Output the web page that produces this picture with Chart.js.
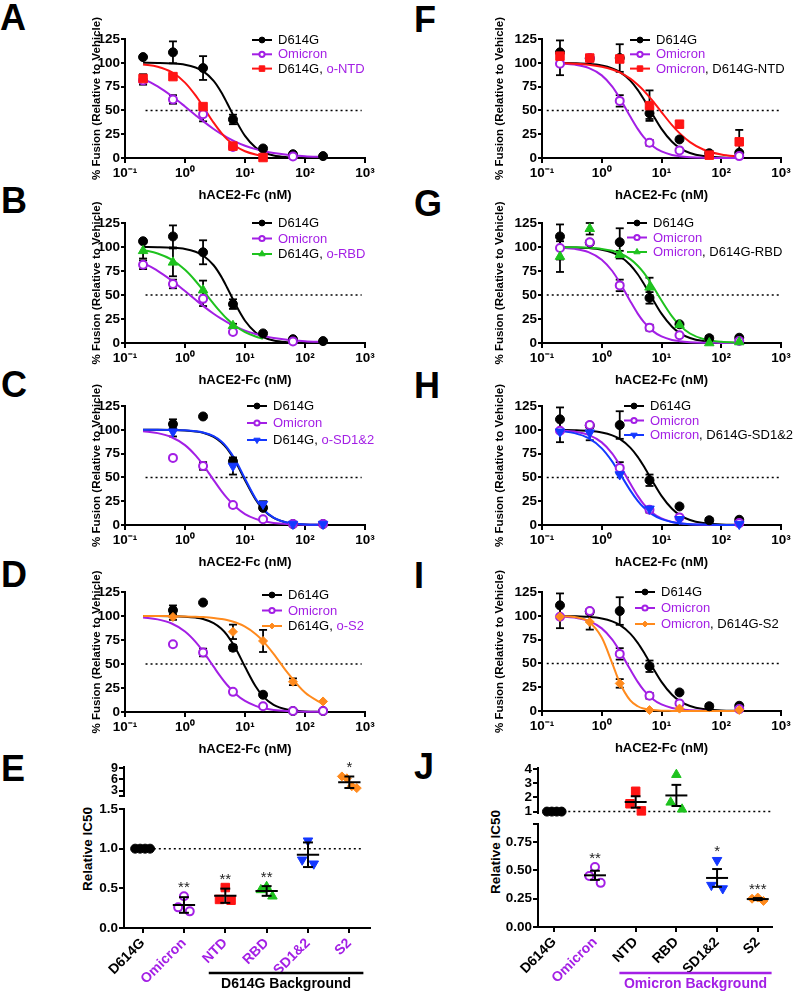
<!DOCTYPE html>
<html lang="en">
<head>
<meta charset="UTF-8">
<title>hACE2-Fc inhibition of spike-mediated fusion</title>
<style>
  body { margin: 0; background: #fff; }
  #fig { position: relative; width: 797px; height: 995px; overflow: hidden; font-family: "Liberation Sans", Arial, sans-serif; }
  #fig canvas { position: absolute; }
  .letter { position: absolute; font-weight: bold; font-size: 36px; line-height: 1; }
  .ytitle { position: absolute; font-weight: bold; font-size: 13.5px; white-space: nowrap; transform: translate(-50%, -50%) rotate(-90deg); }
</style>
</head>
<body>
<div id="fig">
  <div class="letter" style="left:0px;top:0px">A</div>
  <div class="letter" style="left:1px;top:183px">B</div>
  <div class="letter" style="left:1px;top:367px">C</div>
  <div class="letter" style="left:1px;top:557px">D</div>
  <div class="letter" style="left:1px;top:751px">E</div>
  <div class="letter" style="left:414px;top:2px">F</div>
  <div class="letter" style="left:414px;top:186px">G</div>
  <div class="letter" style="left:414px;top:368px">H</div>
  <div class="letter" style="left:414px;top:558px">I</div>
  <div class="letter" style="left:414px;top:749px">J</div>
  <div class="ytitle" style="left:87px;top:849px">Relative IC50</div>
  <div class="ytitle" style="left:495px;top:852px">Relative IC50</div>
</div>
<script src="https://cdn.jsdelivr.net/npm/chart.js@4.4.1/dist/chart.umd.min.js"></script>
<script>
var BLACK = '#000000', PURPLE = '#a31fe5', RED = '#ff1414', GREEN = '#1ec21e', BLUE = '#1438ff', ORANGE = '#ff8a1d';

var conc = [0.2, 0.63, 2, 6.3, 20, 63, 200];
var fitConc = [0.2, 0.35, 0.6, 1, 1.5, 2, 3, 4, 5, 7, 10, 15, 20, 30, 50, 100, 200];
var xTicks = [0.1, 1, 10, 100, 1000];
var xTickLabels = ['10⁻¹', '10⁰', '10¹', '10²', '10³'];
var yTicks = [0, 25, 50, 75, 100, 125];
var refLeft = [0.22, 880];
var refRight = [0.12, 950];

// A, B
var wtAB = [106, 111, 94.5, 40.5, 10, 4, 2];
var wtABErr = [0, 11.5, 12.5, 5, 0, 0, 0];
var wtABFit = [100, 99.8, 99.3, 98.0, 95.1, 91.2, 81.0, 69.4, 58.1, 39.8, 23.2, 11.0, 6.2, 2.6, 0.9, 0.2, 0];
var omiAB = [81.5, 61.5, 46, 11.5, null, 1.5, null];
var omiABErr = [4.5, 4.5, 7.5, 2, 0, 0, 0];
var omiABFit = [83.4, 75.2, 65.1, 54.1, 45.0, 38.7, 30.5, 25.3, 21.7, 17.0, 12.9, 9.3, 7.4, 5.2, 3.4, 1.8, 1.0];
var ntdA = [83.5, 85.5, 54, 12.5, 0.5, null, null];
var ntdAErr = [4.5, 0, 0, 2.5, 0, 0, 0];
var ntdAFit = [98.3, 95.8, 90.1, 79.2, 65.7, 54.1, 37.1, 26.6, 19.8, 12.3, 7.1, 3.7, 2.3];
var rbdB = [96, 84, 55, 18, null, null, null];
var rbdBErr = [8, 14.5, 10, 2, 0, 0, 0];
var rbdBFit = [96.8, 93.3, 86.8, 76.2, 64.6, 54.9, 40.8, 31.6, 25.2, 17.4, 11.3, 6.8, 4.6];

// C, D
var wtCD = [null, 106, 114, 67, 18, 1, 1];
var wtCDErr = [0, 5, 0, 3, 2, 0, 0];
var wtCDFit = [100, 100, 99.8, 99.3, 98.3, 96.9, 92.7, 87.0, 80.4, 66.2, 47.1, 26.8, 16.3, 7.4, 2.5, 0.6, 0.1];
var omiCD = [null, 70.5, 62, 21, 6, 1, 1];
var omiCDErr = [0, 0, 4, 0, 0, 0, 0];
var omiCDFit = [98.5, 96.5, 92.2, 83.9, 73.1, 63.2, 47.2, 36.1, 28.4, 18.8, 11.5, 6.4, 4.1, 2.2, 1.0, 0.3, 0.1];
var sd12C = [null, 98, null, 62, 22, 1, 1];
var sd12CErr = [0, 5, 0, 9, 3, 0, 0];
var sd12CFit = [100, 100, 99.8, 99.4, 98.5, 97.2, 93.3, 87.9, 81.6, 67.8, 48.6, 27.9, 17.0, 7.7, 2.6, 0.6, 0.1];
var s2D = [null, 99, null, 83.5, 74, 31.5, 11];
var s2DErr = [0, 3, 0, 7.5, 11.5, 3.5, 0];
var s2DFit = [100, 100, 99.8, 99.6, 99.3, 98.9, 98.0, 96.9, 95.8, 93.2, 88.9, 81.3, 73.9, 60.6, 41.7, 20.2, 8.2];

// F - I
var wtFI = [111, 104.5, 105, 47, 19.5, 5, 5.5];
var wtFIErr = [12.5, 2.5, 14.5, 6, 0, 2.5, 0];
var wtFIFit = [99.9, 99.6, 98.9, 97.2, 94.2, 90.4, 81.3, 71.6, 62.2, 46.5, 30.6, 17.0, 10.6, 5.2, 2.0, 0.6, 0.1];
var omiFI = [99, 105, 60, 16, 8, null, 2];
var omiFIErr = [12, 0, 6, 3, 0, 0, 0];
var omiFIFit = [99.3, 98.1, 94.7, 86.8, 75.0, 63.0, 43.6, 30.6, 22.2, 12.9, 6.9, 3.2, 1.9, 0.9, 0.3, 0.1, 0];
var ntdF = [107, 105, 104, 55, 35.5, 3, 17];
var ntdFErr = [0, 0, 0, 16, 3, 0, 12.5];
var ntdFFit = [99.6, 99.0, 98.0, 95.9, 93.0, 89.9, 83.4, 77.0, 71.1, 60.5, 48.2, 34.5, 26.1, 16.7, 8.9, 3.6, 1.4];
var rbdG = [90, 119, 92, 58, 19, 0, 1];
var rbdGErr = [16, 6, 4, 10, 0, 0, 0];
var rbdGFit = [99.9, 99.7, 99.2, 98.0, 96.0, 93.5, 87.4, 80.5, 73.5, 60.2, 44.3, 27.7, 18.6, 9.9, 4.2, 1.2, 0.4];
var sd12H = [98, 97, 53, 17, 6, null, 1];
var sd12HErr = [0, 8, 0, 2, 0, 0, 0];
var sd12HFit = [98.7, 96.5, 91.2, 80.5, 66.6, 54.3, 36.4, 25.4, 18.6, 11.1, 6.1, 3.1, 1.8, 0.9, 0.4, 0.1, 0];
var s2I = [99, 93.5, 29, 1, 2.5, null, 1];
var s2IErr = [0, 8, 4.5, 0, 0, 0, 0];
var s2IFit = [99.8, 98.7, 94.0, 77.1, 50.0, 29.7, 11.1, 5.0, 2.6, 1.0, 0.3, 0.1, 0, 0, 0, 0, 0];

// E, J relative IC50
var icCats = ['D614G', 'Omicron', 'NTD', 'RBD', 'SD1&2', 'S2'];
var icE = [[1, 1, 1, 1], [0.40, 0.26, 0.21], [0.51, 0.36, 0.35], [0.52, 0.48, 0.40], [1.10, 0.86, 0.81], [6.8, 6.3, 4.2, 3.7]];
var starsE = ['', '**', '**', '**', '', '*'];
var icJ = [[1, 1, 1, 1], [0.53, 0.45, 0.39], [2.43, 1.55, 1.05], [3.6, 1.65, 1.16], [0.59, 0.37, 0.34], [0.26, 0.25, 0.23]];
var starsJ = ['', '**', '', '', '*', '***'];
var refE = [0.15, 5.3];
var refJ = [-0.27, 5.35];
var eUpperTicks = [1.6, 3, 6, 9], eUpperLabels = ['', '3', '6', '9'];
var eLowerTicks = [0, 0.5, 1, 1.5], eLowerLabels = ['0.0', '0.5', '1.0', '1.5'];
var jUpperTicks = [1, 2, 3, 4], jUpperLabels = ['1', '2', '3', '4'];
var jLowerTicks = [0, 0.25, 0.5, 0.75, 0.91], jLowerLabels = ['0.00', '0.25', '0.50', '0.75', ''];

Chart.defaults.font.family = '"Liberation Sans", Arial, sans-serif';
Chart.defaults.color = '#000';

var fig = document.getElementById('fig');
function addCanvas(left, top, w, h) {
  var c = document.createElement('canvas');
  c.width = w; c.height = h;
  c.style.left = left + 'px'; c.style.top = top + 'px';
  c.style.width = w + 'px'; c.style.height = h + 'px';
  fig.appendChild(c);
  return c;
}

function pointOpts(color, shape) {
  var o = { pointBackgroundColor: color, pointBorderColor: color, pointBorderWidth: 1, pointStyle: 'circle', pointRadius: 4.5, pointRotation: 0 };
  if (shape === 'open') { o.pointBackgroundColor = '#fff'; o.pointBorderWidth = 2; o.pointRadius = 4; }
  if (shape === 'square') { o.pointStyle = 'rect'; o.pointRadius = 6; }
  if (shape === 'up') { o.pointStyle = 'triangle'; o.pointRadius = 5.5; }
  if (shape === 'down') { o.pointStyle = 'triangle'; o.pointRadius = 5.5; o.pointRotation = 180; }
  if (shape === 'diamond') { o.pointStyle = 'rectRot'; o.pointRadius = 4.5; }
  return o;
}

function drawMarker(ctx, shape, x, y, r) {
  ctx.beginPath();
  if (shape === 'square') ctx.rect(x - r * 0.71, y - r * 0.71, r * 1.42, r * 1.42);
  else if (shape === 'up' || shape === 'down') {
    var s = shape === 'up' ? 1 : -1;
    ctx.moveTo(x, y - s * r); ctx.lineTo(x + r * 0.87, y + s * r * 0.5); ctx.lineTo(x - r * 0.87, y + s * r * 0.5); ctx.closePath();
  } else if (shape === 'diamond') {
    ctx.moveTo(x, y - r); ctx.lineTo(x + r, y); ctx.lineTo(x, y + r); ctx.lineTo(x - r, y); ctx.closePath();
  } else ctx.arc(x, y, r, 0, Math.PI * 2);
  ctx.fill(); ctx.stroke();
}

function seg(ctx, x1, y1, x2, y2) { ctx.beginPath(); ctx.moveTo(x1, y1); ctx.lineTo(x2, y2); ctx.stroke(); }

// legend in the top right of each dose panel, labels in two colours
function legendPlugin(series, pos) {
  return {
    id: 'seriesLegend',
    afterDatasetsDraw: function (chart) {
      var ctx = chart.ctx, a = chart.chartArea;
      var x0 = a.left + pos[0], y = a.top + pos[1];
      ctx.save();
      ctx.font = '13px "Liberation Sans", Arial, sans-serif';
      ctx.textBaseline = 'middle'; ctx.textAlign = 'left';
      series.forEach(function (s) {
        ctx.strokeStyle = s.color; ctx.lineWidth = 2;
        seg(ctx, x0, y, x0 + 20, y);
        var po = pointOpts(s.color, s.shape);
        ctx.fillStyle = po.pointBackgroundColor; ctx.strokeStyle = po.pointBorderColor; ctx.lineWidth = po.pointBorderWidth;
        drawMarker(ctx, s.shape, x0 + 10, y, po.pointRadius * 0.65);
        var tx = x0 + 26;
        s.parts.forEach(function (p) { ctx.fillStyle = p[1]; ctx.fillText(p[0], tx, y + 0.5); tx += ctx.measureText(p[0]).width; });
        y += pos[2];
      });
      ctx.restore();
    }
  };
}

// error bars behind the markers (values carry their own +/- in field e)
var errorBars = {
  id: 'errorBars',
  beforeDatasetsDraw: function (chart) {
    var ctx = chart.ctx, ys = chart.scales.y;
    ctx.save();
    ctx.strokeStyle = '#000'; ctx.lineWidth = 1.8;
    chart.data.datasets.forEach(function (ds, i) {
      if (!ds.hasErr) return;
      var meta = chart.getDatasetMeta(i);
      meta.data.forEach(function (pt, j) {
        var raw = ds.data[j];
        if (!raw.e) return;
        var yt = ys.getPixelForValue(raw.y + raw.e), yb = ys.getPixelForValue(raw.y - raw.e);
        seg(ctx, pt.x, yt, pt.x, yb);
        seg(ctx, pt.x - 4, yt, pt.x + 4, yt);
        seg(ctx, pt.x - 4, yb, pt.x + 4, yb);
      });
    });
    ctx.restore();
  }
};

function S(parts, color, shape, vals, errs, fit) {
  return { parts: parts, color: color, shape: shape, vals: vals, errs: errs, fit: fit };
}
var lblWT = [['D614G', BLACK]];
var lblOmi = [['Omicron', PURPLE]];

var dosePanels = [
  { left: 80, width: 320, yw: 45, right: 365, top: 39, bottom: 158, legend: [127, 1, 14.3], ref: refLeft, series: [
    S(lblWT, BLACK, 'filled', wtAB, wtABErr, wtABFit), S(lblOmi, PURPLE, 'open', omiAB, omiABErr, omiABFit),
    S([['D614G, ', BLACK], ['o-NTD', PURPLE]], RED, 'square', ntdA, ntdAErr, ntdAFit)] },
  { left: 80, width: 320, yw: 45, right: 365, top: 223, bottom: 343, legend: [127, 0, 15.5], ref: refLeft, series: [
    S(lblWT, BLACK, 'filled', wtAB, wtABErr, wtABFit), S(lblOmi, PURPLE, 'open', omiAB, omiABErr, omiABFit),
    S([['D614G, ', BLACK], ['o-RBD', PURPLE]], GREEN, 'up', rbdB, rbdBErr, rbdBFit)] },
  { left: 80, width: 320, yw: 45, right: 365, top: 406, bottom: 525, legend: [122, 0, 17], ref: refLeft, series: [
    S(lblWT, BLACK, 'filled', wtCD, wtCDErr, wtCDFit), S(lblOmi, PURPLE, 'open', omiCD, omiCDErr, omiCDFit),
    S([['D614G, ', BLACK], ['o-SD1&2', PURPLE]], BLUE, 'down', sd12C, sd12CErr, sd12CFit)] },
  { left: 80, width: 320, yw: 45, right: 365, top: 592, bottom: 712, legend: [137, 3, 15.5], ref: refLeft, series: [
    S(lblWT, BLACK, 'filled', wtCD, wtCDErr, wtCDFit), S(lblOmi, PURPLE, 'open', omiCD, omiCDErr, omiCDFit),
    S([['D614G, ', BLACK], ['o-S2', PURPLE]], ORANGE, 'diamond', s2D, s2DErr, s2DFit)] },
  { left: 483, width: 314, yw: 59, right: 781, top: 39, bottom: 158, legend: [88, 1, 14.3], ref: refRight, series: [
    S(lblWT, BLACK, 'filled', wtFI, wtFIErr, wtFIFit), S(lblOmi, PURPLE, 'open', omiFI, omiFIErr, omiFIFit),
    S([['Omicron', PURPLE], [', D614G-NTD', BLACK]], RED, 'square', ntdF, ntdFErr, ntdFFit)] },
  { left: 483, width: 314, yw: 59, right: 781, top: 223, bottom: 343, legend: [85, 0, 14.5], ref: refRight, series: [
    S(lblWT, BLACK, 'filled', wtFI, wtFIErr, wtFIFit), S(lblOmi, PURPLE, 'open', omiFI, omiFIErr, omiFIFit),
    S([['Omicron', PURPLE], [', D614G-RBD', BLACK]], GREEN, 'up', rbdG, rbdGErr, rbdGFit)] },
  { left: 483, width: 314, yw: 59, right: 781, top: 406, bottom: 525, legend: [82, 0, 14.5], ref: refRight, series: [
    S(lblWT, BLACK, 'filled', wtFI, wtFIErr, wtFIFit), S(lblOmi, PURPLE, 'open', omiFI, omiFIErr, omiFIFit),
    S([['Omicron', PURPLE], [', D614G-SD1&2', BLACK]], BLUE, 'down', sd12H, sd12HErr, sd12HFit)] },
  { left: 483, width: 314, yw: 59, right: 781, top: 592, bottom: 711, legend: [93, 0, 16], ref: refRight, series: [
    S(lblWT, BLACK, 'filled', wtFI, wtFIErr, wtFIFit), S(lblOmi, PURPLE, 'open', omiFI, omiFIErr, omiFIFit),
    S([['Omicron', PURPLE], [', D614G-S2', BLACK]], ORANGE, 'diamond', s2I, s2IErr, s2IFit)] }
];

var axisGrid = { drawOnChartArea: false, color: '#000', lineWidth: 2 };

function doseChart(p) {
  var padTop = 28, xH = 48;
  var canvas = addCanvas(p.left, p.top - padTop, p.width, padTop + (p.bottom - p.top) + xH);
  var datasets = [];
  p.series.forEach(function (s, k) {
    var pts = [];
    s.vals.forEach(function (v, i) { if (v !== null) pts.push({ x: conc[i], y: v, e: s.errs[i] }); });
    datasets.push(Object.assign({ data: pts, hasErr: true, showLine: false, clip: false, order: 1 - k * 0.1 }, pointOpts(s.color, s.shape)));
    datasets.push({
      data: s.fit.map(function (v, i) { return { x: fitConc[i], y: v }; }),
      showLine: true, borderColor: s.color, borderWidth: 2, pointRadius: 0,
      cubicInterpolationMode: 'monotone', clip: false, order: 3 - k * 0.1
    });
  });
  datasets.push({
    data: [{ x: p.ref[0], y: 50 }, { x: p.ref[1], y: 50 }],
    showLine: true, borderColor: '#000', borderWidth: 1.5, borderDash: [2, 3], pointRadius: 0, order: 5
  });
  new Chart(canvas, {
    type: 'scatter',
    data: { datasets: datasets },
    plugins: [errorBars, legendPlugin(p.series, p.legend)],
    options: {
      responsive: false, animation: false, events: [],
      layout: { padding: { top: padTop, right: p.left + p.width - p.right, bottom: 0, left: 0 } },
      plugins: { legend: { display: false }, tooltip: { enabled: false } },
      scales: {
        x: {
          type: 'logarithmic', min: 0.1, max: 1000,
          afterBuildTicks: function (s) { s.ticks = xTicks.map(function (v) { return { value: v }; }); },
          afterFit: function (s) { s.height = xH; },
          ticks: { autoSkip: false, maxRotation: 0, padding: 2, font: { size: 13.5, weight: 'bold' },
                   callback: function (v, i) { return xTickLabels[i]; } },
          grid: Object.assign({ tickLength: 5 }, axisGrid),
          border: { color: '#000', width: 2 },
          title: { display: true, text: 'hACE2-Fc (nM)', font: { size: 13, weight: 'bold' }, padding: { top: 0, bottom: 3 } }
        },
        y: {
          min: 0, max: 125,
          afterBuildTicks: function (s) { s.ticks = yTicks.map(function (v) { return { value: v }; }); },
          afterFit: function (s) { s.width = p.yw; },
          ticks: { autoSkip: false, padding: 1, font: { size: 13.5, weight: 'bold' } },
          grid: Object.assign({ tickLength: 4 }, axisGrid),
          border: { color: '#000', width: 2 },
          title: { display: true, text: '% Fusion (Relative to Vehicle)', font: { size: 11.5, weight: 'bold' }, padding: { top: 10, bottom: 0 } }
        }
      }
    }
  });
}
dosePanels.forEach(doseChart);

// ---- relative IC50 scatter panels (broken y axis = two stacked charts) ----
var groupColors = [BLACK, PURPLE, RED, GREEN, BLUE, ORANGE];
var groupShapes = ['filled', 'open', 'square', 'up', 'down', 'diamond'];

function spread(n, k) {
  var offs = n === 4 ? [-0.18, -0.06, 0.06, 0.18] : [0, -0.14, 0.14];
  return offs[k] || 0;
}

function groupPlugin(values, stars, useSem) {
  return {
    id: 'groupMarks',
    afterDatasetsDraw: function (chart) {
      var ctx = chart.ctx, xs = chart.scales.x, ys = chart.scales.y;
      ctx.save();
      ctx.strokeStyle = '#000'; ctx.lineWidth = 2;
      values.forEach(function (vals, g) {
        var n = vals.length;
        var mean = vals.reduce(function (a, b) { return a + b; }, 0) / n;
        var sd = Math.sqrt(vals.reduce(function (a, v) { return a + (v - mean) * (v - mean); }, 0) / (n - 1));
        var err = useSem ? sd / Math.sqrt(n) : sd;
        var cx = xs.getPixelForValue(g);
        var half = xs.getPixelForValue(g + 0.27) - cx, cap = xs.getPixelForValue(g + 0.12) - cx;
        if (mean >= ys.min && mean <= ys.max) {
          var ym = ys.getPixelForValue(mean);
          seg(ctx, cx - half, ym, cx + half, ym);
          if (err > 0) {
            var yt = ys.getPixelForValue(mean + err), yb = ys.getPixelForValue(mean - err);
            seg(ctx, cx, yt, cx, yb);
            seg(ctx, cx - cap, yt, cx + cap, yt);
            seg(ctx, cx - cap, yb, cx + cap, yb);
          }
        }
        var top = Math.max(Math.max.apply(null, vals), mean + err);
        if (stars[g] && top >= ys.min && top <= ys.max) {
          ctx.fillStyle = '#222';
          ctx.font = '15px "Liberation Sans", Arial, sans-serif';
          ctx.textAlign = 'center'; ctx.textBaseline = 'alphabetic';
          ctx.fillText(stars[g], cx, ys.getPixelForValue(top) - 4);
        }
      });
      ctx.restore();
    }
  };
}

function bandPlugin(band) {
  return {
    id: 'bandLabel',
    afterDraw: function (chart) {
      if (!band) return;
      var ctx = chart.ctx, xs = chart.scales.x;
      var x1 = xs.getPixelForValue(band.from), x2 = xs.getPixelForValue(band.to);
      var y = chart.chartArea.bottom + band.dy;
      ctx.save();
      ctx.strokeStyle = band.color; ctx.lineWidth = 2.5;
      seg(ctx, x1, y, x2, y);
      ctx.fillStyle = band.color;
      ctx.font = 'bold 14px "Liberation Sans", Arial, sans-serif';
      ctx.textAlign = 'center'; ctx.textBaseline = 'middle';
      ctx.fillText(band.text, (x1 + x2) / 2, y + 11.5);
      ctx.restore();
    }
  };
}

var icPanels = [
  { left: 60, width: 330, yw: 64, right: 370, top: 767, bottom: 796, padTop: 10, padBottom: 10, showX: false,
    xMin: -0.45, xMax: 5.5, yMin: 1.6, yMax: 9.3, ticks: eUpperTicks, labels: eUpperLabels, tickFont: 12.5,
    values: icE, stars: starsE, sem: false, ref: null },
  { left: 60, width: 330, yw: 64, right: 370, top: 809, bottom: 928, padTop: 10, xH: 67, showX: true,
    xMin: -0.45, xMax: 5.5, yMin: 0, yMax: 1.5, ticks: eLowerTicks, labels: eLowerLabels, tickFont: 13.5,
    values: icE, stars: starsE, sem: false, ref: refE, catColors: [BLACK, PURPLE, PURPLE, PURPLE, PURPLE, PURPLE],
    band: { from: 1.6, to: 5.34, dy: 45, text: 'D614G Background', color: BLACK } },
  { left: 480, width: 312, yw: 58, right: 772, top: 768, bottom: 813, padTop: 10, padBottom: 10, showX: false,
    xMin: -0.4, xMax: 5.35, yMin: 0.9, yMax: 4.07, ticks: jUpperTicks, labels: jUpperLabels, tickFont: 13.5,
    values: icJ, stars: starsJ, sem: true, ref: refJ },
  { left: 480, width: 312, yw: 58, right: 772, top: 824, bottom: 927, padTop: 10, xH: 68, showX: true,
    xMin: -0.4, xMax: 5.35, yMin: 0, yMax: 0.91, ticks: jLowerTicks, labels: jLowerLabels, tickFont: 13.5,
    values: icJ, stars: starsJ, sem: true, ref: null, catColors: [BLACK, PURPLE, BLACK, BLACK, BLACK, BLACK],
    band: { from: 1.6, to: 5.34, dy: 46, text: 'Omicron Background', color: PURPLE } }
];

function icChart(p) {
  var below = p.showX ? p.xH : p.padBottom;
  var canvas = addCanvas(p.left, p.top - p.padTop, p.width, p.padTop + (p.bottom - p.top) + below);
  var datasets = p.values.map(function (vals, g) {
    var pts = [];
    vals.forEach(function (v, k) {
      if (v >= p.yMin && v <= p.yMax) pts.push({ x: g + spread(vals.length, k), y: v });
    });
    return Object.assign({ data: pts, showLine: false, clip: false, order: 1 }, pointOpts(groupColors[g], groupShapes[g]));
  });
  if (p.ref) {
    datasets.push({
      data: [{ x: p.ref[0], y: 1 }, { x: p.ref[1], y: 1 }],
      showLine: true, borderColor: '#000', borderWidth: 1.5, borderDash: [2, 3], pointRadius: 0, order: 5
    });
  }
  new Chart(canvas, {
    type: 'scatter',
    data: { datasets: datasets },
    plugins: [groupPlugin(p.values, p.stars, p.sem), bandPlugin(p.band)],
    options: {
      responsive: false, animation: false, events: [],
      layout: { padding: { top: p.padTop, right: p.left + p.width - p.right, bottom: p.showX ? 0 : p.padBottom, left: 0 } },
      plugins: { legend: { display: false }, tooltip: { enabled: false } },
      scales: {
        x: {
          type: 'linear', min: p.xMin, max: p.xMax, display: p.showX,
          afterBuildTicks: function (s) { s.ticks = icCats.map(function (c, i) { return { value: i }; }); },
          afterFit: function (s) { if (p.showX) s.height = p.xH; },
          ticks: {
            autoSkip: false, minRotation: 45, maxRotation: 45, padding: 2,
            font: { size: 14, weight: 'bold' },
            color: function (c) { return p.catColors ? p.catColors[c.index] : '#000'; },
            callback: function (v) { return icCats[v]; }
          },
          grid: Object.assign({ tickLength: 5 }, axisGrid),
          border: { color: '#000', width: 2 }
        },
        y: {
          min: p.yMin, max: p.yMax,
          afterBuildTicks: function (s) { s.ticks = p.ticks.map(function (v) { return { value: v }; }); },
          afterFit: function (s) { s.width = p.yw; },
          ticks: { autoSkip: false, padding: 1, font: { size: p.tickFont, weight: 'bold' },
                   callback: function (v, i) { return p.labels[i]; } },
          grid: Object.assign({ tickLength: 5 }, axisGrid),
          border: { color: '#000', width: 2 }
        }
      }
    }
  });
}
icPanels.forEach(icChart);
</script>
</body>
</html>
